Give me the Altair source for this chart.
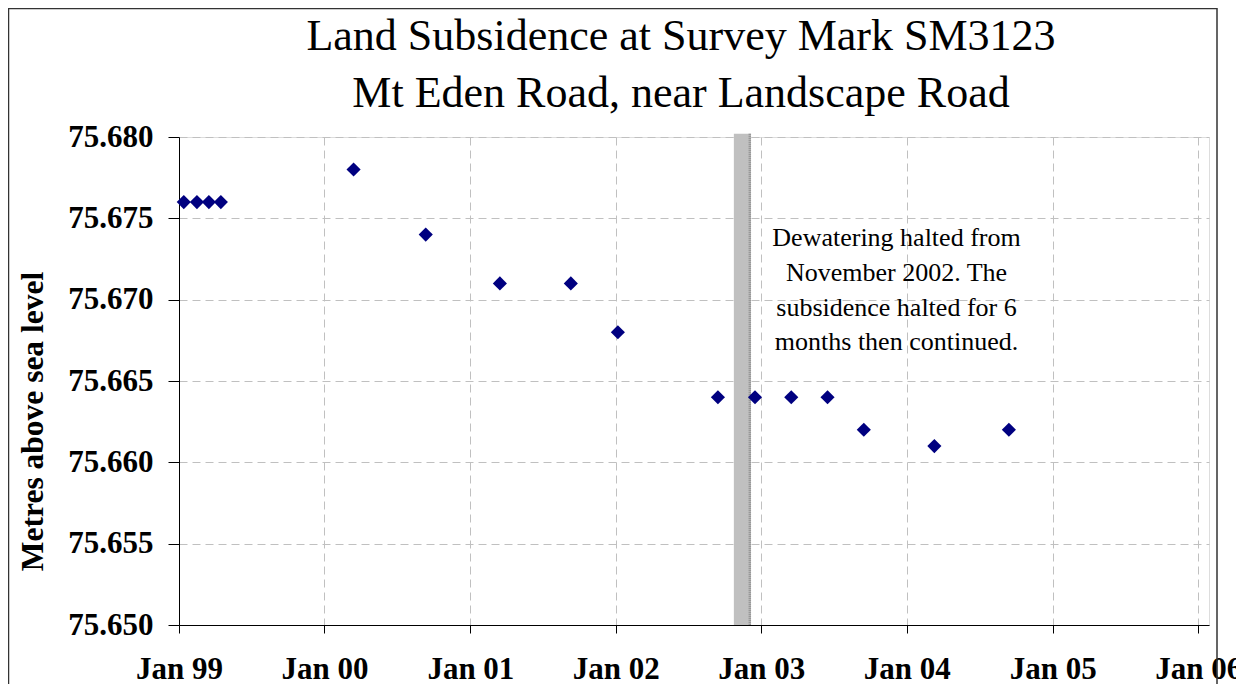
import altair as alt
import pandas as pd

# ---- data ----
survey_dates = ["1999-01-13", "1999-02-15", "1999-03-17", "1999-04-16",
                "2000-03-14", "2000-09-11", "2001-03-16", "2001-09-10",
                "2002-01-06", "2002-09-14", "2002-12-16", "2003-03-17",
                "2003-06-16", "2003-09-15", "2004-03-10", "2004-09-13"]
levels = [75.676, 75.676, 75.676, 75.676,
          75.678, 75.674, 75.671, 75.671,
          75.668, 75.664, 75.664, 75.664,
          75.664, 75.662, 75.661, 75.662]
y_ticks = [75.650, 75.655, 75.660, 75.665, 75.670, 75.675, 75.680]
halt_start = "2002-10-24"
halt_end = "2002-12-06"
halt_edge = "2002-12-03"
note_date = "2003-12-06"
note_level = 75.67329
note_text = "Dewatering halted from\nNovember 2002.  The\nsubsidence halted for 6\nmonths then continued."
title_lines = ["Land Subsidence at Survey Mark SM3123", "Mt Eden Road, near Landscape Road"]
y_title = "Metres above sea level"

SERIF = "Liberation Serif"

df = pd.DataFrame({"date": [d + "T00:00:00" for d in survey_dates], "level": levels})

x_scale = alt.Scale(domain=[alt.DateTime(year=1999, month=1, date=1),
                            alt.DateTime(year=2006, month=1, date=28)], nice=False)
y_scale = alt.Scale(domain=[75.650, 75.680], nice=False, zero=False)

x_axis = alt.Axis(title=None, format="%b %y", tickCount={"interval": "year", "step": 1},
                  labelFont=SERIF, labelFontSize=31, labelFontWeight="bold", labelColor="black",
                  tickSize=8, tickColor="black", domainColor="black", labelPadding=21,
                  grid=True, gridColor="#c0c0c0", gridDash=[8, 5], labelFlush=False,
                  labelOverlap=False)
y_axis = alt.Axis(title=y_title, values=y_ticks, format=".3f",
                  labelFont=SERIF, labelFontSize=31, labelFontWeight="bold", labelColor="black",
                  tickSize=11, tickColor="black", domainColor="black", labelPadding=15,
                  grid=True, gridColor="#c0c0c0", gridDash=[8, 5],
                  titleFont=SERIF, titleFontSize=31.5, titleFontWeight="bold", titleColor="black",
                  titleX=-146, titleY=284, titleAngle=-90, titleAlign="center",
                  titleBaseline="middle")

points = alt.Chart(df).mark_point(shape="diamond", filled=True, size=200,
                                  color="#000080", opacity=1).encode(
    x=alt.X("date:T", scale=x_scale, axis=x_axis),
    y=alt.Y("level:Q", scale=y_scale, axis=y_axis),
)

band_df = pd.DataFrame({"start": [halt_start + "T00:00:00"], "end": [halt_end + "T00:00:00"],
                        "edge": [halt_edge + "T00:00:00"]})
band = alt.Chart(band_df).mark_rect(color="#c0c0c0", opacity=1).encode(
    x="start:T", x2="end:T",
    y=alt.datum(75.6802), y2=alt.datum(75.650),
)
band_edge = alt.Chart(band_df).mark_rule(color="#8a8a8a", strokeWidth=2.5,
                                         strokeDash=[1, 1]).encode(
    x="edge:T", y=alt.datum(75.6802), y2=alt.datum(75.650),
)

note_df = pd.DataFrame({"date": [note_date + "T00:00:00"], "level": [note_level], "text": [note_text]})
note = alt.Chart(note_df).mark_text(font=SERIF, fontSize=26, lineHeight=34.7, align="center",
                                    baseline="alphabetic", lineBreak="\n", color="black").encode(
    x="date:T", y="level:Q", text="text:N")

frame = alt.Chart(alt.Data(values=[{}])).mark_rect(filled=False, stroke="#333333",
                                                   strokeWidth=1.5).encode(
    x=alt.value(-170.5), x2=alt.value(1038), y=alt.value(-128.5), y2=alt.value(720))

chart = alt.layer(band, band_edge, points, note, frame).properties(
    width=1030, height=488,
    title=alt.TitleParams(text=title_lines, font=SERIF, fontSize=44, fontWeight="normal",
                          color="black", anchor="middle", frame="group", dx=-13, dy=128,
                          lineHeight=57, offset=20),
    autosize=alt.AutoSizeParams(type="none"),
    padding={"left": 171, "top": 129, "right": 27, "bottom": 59},
).configure_view(stroke="black", strokeWidth=1.2).configure(background="white")

chart.save("out.html", embed_options={"renderer": "svg", "actions": False})
